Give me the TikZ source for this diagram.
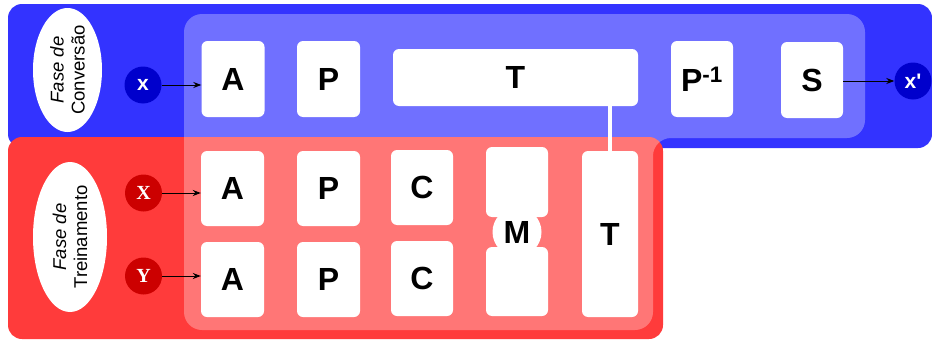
\documentclass[tikz,border=0pt]{standalone}
\usepackage{fontspec}
\setmainfont{Liberation Sans}
\newfontfamily\serifb{Liberation Serif}
\usetikzlibrary{arrows.meta,shapes.geometric}
\definecolor{convblue}{RGB}{51,51,255}
\definecolor{trainred}{RGB}{255,59,59}
\definecolor{dkblue}{RGB}{0,0,204}
\definecolor{dkred}{RGB}{204,0,0}
\begin{document}
\begin{tikzpicture}[x=1pt,y=-1pt,
  box/.style={fill=white, rounded corners=6pt, inner sep=0pt, minimum width=63pt, minimum height=76pt,
              font=\bfseries\fontsize{32}{32}\selectfont},
  phase/.style={ellipse, fill=white, inner sep=0pt},
  phasetext/.style={rotate=90, align=center, inner sep=0pt, font=\fontsize{18.5}{21}\selectfont},
  bcirc/.style={circle, fill=dkblue, text=white, inner sep=0pt, minimum size=37pt,
              font=\bfseries\fontsize{21}{21}\selectfont},
  rcirc/.style={circle, fill=dkred, text=white, inner sep=0pt, minimum size=37pt,
              font=\serifb\bfseries\fontsize{20}{20}\selectfont},
  arr/.style={-{Stealth[length=8pt,width=6pt]}, line width=1pt}]
\useasboundingbox (0,0) rectangle (932,340);
% panels
\fill[convblue, rounded corners=14pt] (8,4) rectangle (932,148);
\fill[trainred, rounded corners=14pt] (8,137) rectangle (663,339);
\fill[white, fill opacity=0.3, rounded corners=18pt]
  (184,14) -- (865,14) -- (865,138) -- (653,138) -- (653,330) -- (184,330) -- cycle;
% phase labels
\node[phase, minimum width=69pt, minimum height=124pt] (conv) at (67.5,70) {};
\node[phasetext] (convtxt) at (conv.center) {\textit{Fase de}\\Conversão};
\node[phase, minimum width=74pt, minimum height=150pt] (train) at (70,237) {};
\node[phasetext] (traintxt) at (train.center) {\textit{Fase de}\\Treinamento};
% conversion row
\node[bcirc] (xin) at (143,85) {x};
\node[box] (A0) at (233,79) {A};
\node[box] (P0) at (328.5,79) {P};
\node[box, minimum width=245pt, minimum height=57pt] (T0) at (515.5,77.5) {T};
\node[box, minimum width=62pt] (Pi) at (702,79) {P\textsuperscript{-1}};
\node[box, minimum width=62pt] (S) at (812,80) {S};
\node[bcirc] (xout) at (913,81) {x\textquotesingle};
% training rows
\node[rcirc] (X) at (143.5,193) {X};
\node[rcirc] (Y) at (143.5,276) {Y};
\node[box, minimum height=75pt] (A1) at (232.5,188.5) {A};
\node[box, minimum height=75pt] (A2) at (232.5,279.5) {A};
\node[box, minimum height=75pt] (P1) at (328.5,188.5) {P};
\node[box, minimum height=75pt] (P2) at (328.5,279.5) {P};
\node[box, minimum width=62pt, minimum height=75pt] (C1) at (422,187.5) {C};
\node[box, minimum width=62pt, minimum height=75pt] (C2) at (422,278.5) {C};
\node[box, minimum width=62pt, minimum height=70pt] (M1) at (517,182) {};
\node[box, minimum width=62pt, minimum height=69pt] (M2) at (517,281.5) {};
\node[circle, fill=white, inner sep=0pt, minimum size=49pt,
      font=\bfseries\fontsize{32}{32}\selectfont] (M) at (517,232) {M};
\node[box, minimum width=56pt, minimum height=166pt] (T1) at (610,234) {T};
% connectors
\draw[white, line width=4pt] (T1.north |- T0.south) -- (T1.north);
\draw[arr] (xin.east) -- (xin.east -| A0.west);
\draw[arr] (S.east |- xout.west) -- (xout.west);
\draw[arr] (X.east) -- (X.east -| A1.west);
\draw[arr] (Y.east) -- (Y.east -| A2.west);
\end{tikzpicture}
\end{document}
